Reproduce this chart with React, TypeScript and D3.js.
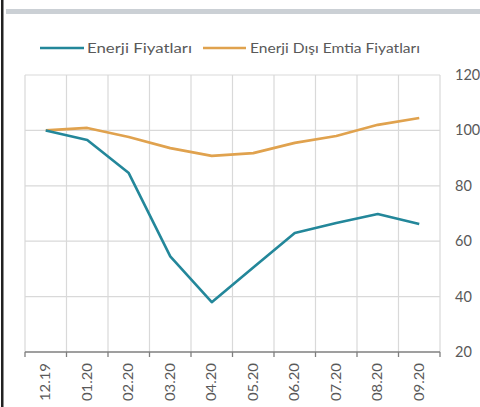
import React from "react";
import * as d3 from "d3";

const categories = ["12.19", "01.20", "02.20", "03.20", "04.20", "05.20", "06.20", "07.20", "08.20", "09.20"];
const energyValues = [100, 96.5, 84.6, 54.5, 38, 50.5, 63, 66.6, 69.8, 66.2];
const nonEnergyValues = [100, 100.9, 97.6, 93.6, 90.8, 91.8, 95.5, 98, 102, 104.5];
const yTicks = [20, 40, 60, 80, 100, 120];
const seriesNames = ["Enerji Fiyatları", "Enerji Dışı Emtia Fiyatları"];

const W = 480;
const H = 407;
const FONT = "Lato, 'Open Sans', sans-serif";
const TEXT = "#595959";
const GRID = "#d9d9d9";
const C_ENERGY = "#23879a";
const C_NON = "#e0a24e";

export default function App() {
  const x = d3.scaleBand<string>().domain(categories).range([25, 440]).padding(0);
  const y = d3.scaleLinear().domain([20, 120]).range([352, 75]);
  const cx = (c: string) => (x(c) as number) + x.bandwidth() / 2;
  const line = d3
    .line<number>()
    .x((_, i) => cx(categories[i]))
    .y((v) => y(v));
  const bounds = [...categories.map((c) => x(c) as number), 440];

  return (
    <svg
      width={W}
      height={H}
      style={{ position: "fixed", left: 0, top: 0, background: "#fff" }}
      fontFamily={FONT}
    >
      <rect x={0} y={0} width={W} height={H} fill="#fff" />
      {/* left frame */}
      <rect x={1} y={0} width={2.5} height={H} fill="#222" />
      {/* top grey bar */}
      <rect x={6} y={9} width={W - 6} height={5} fill="#cbd0d5" />

      {/* horizontal gridlines */}
      {yTicks.slice(1).map((t) => (
        <line key={t} x1={25} x2={440} y1={y(t)} y2={y(t)} stroke={GRID} strokeWidth={1.2} />
      ))}
      {/* vertical gridlines */}
      {bounds.map((b, i) => (
        <line key={i} x1={b} x2={b} y1={y(120)} y2={y(20)} stroke={GRID} strokeWidth={1.2} />
      ))}

      {/* x axis */}
      <line x1={25} x2={440} y1={y(20)} y2={y(20)} stroke="#7f7f7f" strokeWidth={1.3} />
      {bounds.map((b, i) => (
        <line key={"t" + i} x1={b} x2={b} y1={y(20)} y2={y(20) + 5} stroke="#7f7f7f" strokeWidth={1.3} />
      ))}
      {categories.map((c) => (
        <text
          key={c}
          transform={`translate(${cx(c) + 4.5},${y(20) + 11}) rotate(-90)`}
          textAnchor="end"
          fontSize={14}
          fill={TEXT}
          textLength={38}
          lengthAdjust="spacingAndGlyphs"
        >
          {c}
        </text>
      ))}

      {/* y labels on right */}
      {yTicks.map((t) => (
        <text key={t} x={455} y={y(t) + 5} fontSize={14.5} fill={TEXT}>
          {t}
        </text>
      ))}

      {/* series */}
      <path d={line(nonEnergyValues) || ""} fill="none" stroke={C_NON} strokeWidth={2.6} strokeLinejoin="round" />
      <path d={line(energyValues) || ""} fill="none" stroke={C_ENERGY} strokeWidth={2.6} strokeLinejoin="round" />

      {/* legend */}
      <line x1={40} x2={84} y1={48} y2={48} stroke={C_ENERGY} strokeWidth={2.6} />
      <text x={87} y={53} fontSize={14} fill={TEXT} textLength={105} lengthAdjust="spacingAndGlyphs">
        {seriesNames[0]}
      </text>
      <line x1={203} x2={246} y1={48} y2={48} stroke={C_NON} strokeWidth={2.6} />
      <text x={250} y={53} fontSize={14} fill={TEXT} textLength={170} lengthAdjust="spacingAndGlyphs">
        {seriesNames[1]}
      </text>
    </svg>
  );
}
